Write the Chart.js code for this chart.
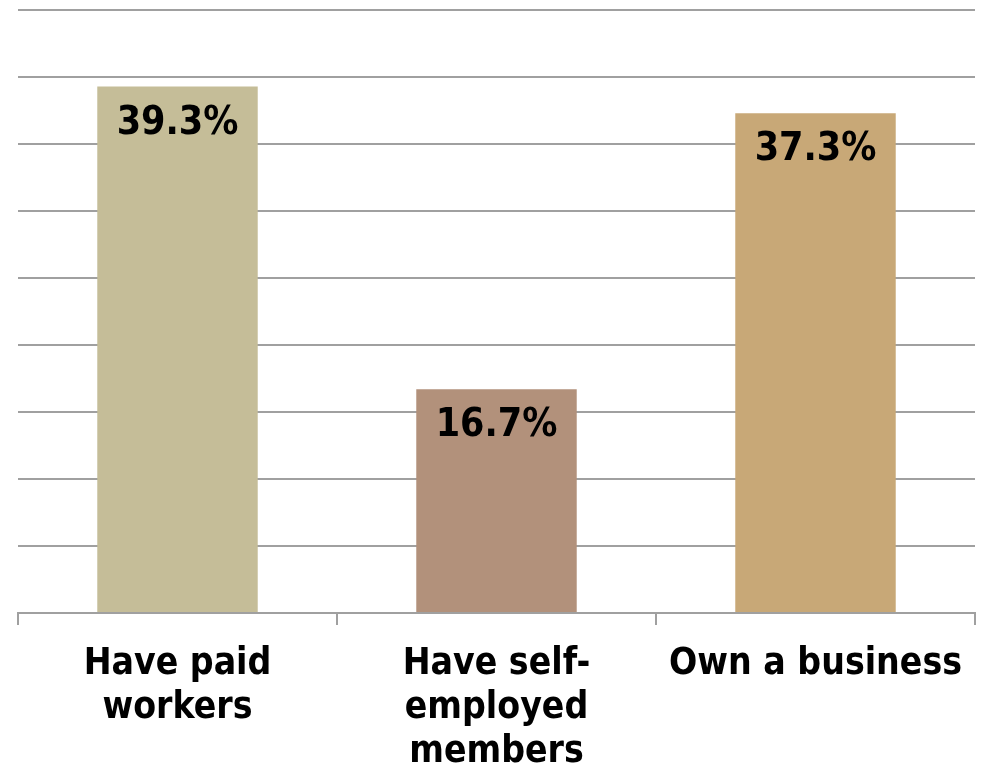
<!DOCTYPE html>
<html>
<head>
<meta charset="utf-8">
<script src="https://cdn.jsdelivr.net/npm/chart.js@4"></script>
<style>
  html, body { margin: 0; padding: 0; background: #fff; }
  #wrap { width: 982px; height: 767px; }
</style>
</head>
<body>
<div id="wrap"><canvas id="bizChart"></canvas></div>
<script>
  const categories = [["Have paid", "workers"], ["Have self-", "employed", "members"], "Own a business"];
  const shares = [39.3, 16.7, 37.3];
  const barColors = ["#c5bd98", "#b2917b", "#c8a877"];
  const yMax = 45;
  const yStep = 5;

  const FONT = "'DejaVu Sans Condensed', 'DejaVu Sans', sans-serif";

  /* ── value labels inside the top of each bar ── */
  const valueLabels = {
    id: "valueLabels",
    afterDatasetsDraw(chart) {
      const { ctx } = chart;
      const meta = chart.getDatasetMeta(0);
      ctx.save();
      ctx.font = "bold 39px " + FONT;
      ctx.fillStyle = "#000";
      ctx.textAlign = "center";
      ctx.textBaseline = "middle";
      meta.data.forEach((bar, i) => {
        ctx.fillText(shares[i].toFixed(1) + "%", bar.x, bar.y + 37);
      });
      ctx.restore();
    },
  };

  new Chart(document.getElementById("bizChart").getContext("2d"), {
    type: "bar",
    data: {
      labels: categories,
      datasets: [
        {
          data: shares,
          backgroundColor: barColors,
          borderWidth: 0,
          categoryPercentage: 1,
          barPercentage: 0.503,
        },
      ],
    },
    options: {
      responsive: true,
      maintainAspectRatio: false,
      animation: false,
      layout: { padding: { top: 10, left: 18, right: 7, bottom: 0 } },
      scales: {
        x: {
          // fixed band under the plot so the last label line sits at the bottom edge
          afterFit: (scale) => {
            scale.height = 154;
          },
          grid: {
            drawOnChartArea: false,
            drawTicks: true,
            tickLength: 12,
            color: "#a0a0a0",
            lineWidth: 2,
          },
          border: { display: true, color: "#a0a0a0", width: 2 },
          ticks: {
            color: "#000",
            padding: 18,
            maxRotation: 0,
            autoSkip: false,
            font: { family: FONT, size: 37, weight: "bold", lineHeight: 1.18 },
          },
        },
        y: {
          min: 0,
          max: yMax,
          ticks: { display: false, stepSize: yStep },
          grid: { color: "#a0a0a0", lineWidth: 2, drawTicks: false },
          border: { display: false },
        },
      },
      plugins: {
        legend: { display: false },
        tooltip: { enabled: false },
      },
    },
    plugins: [valueLabels],
  });
</script>
</body>
</html>
